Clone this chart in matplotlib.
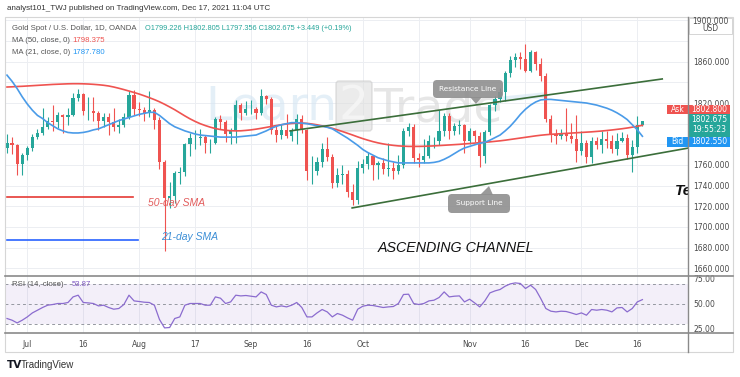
import numpy as np
import pandas as pd
import matplotlib
matplotlib.use("Agg")
import matplotlib.pyplot as plt
from matplotlib.patches import Rectangle, FancyBboxPatch, Polygon
from matplotlib.transforms import Affine2D

W, H = 740, 377

# --- data (XAU/USD daily, OANDA) ---
dates = pd.bdate_range("2021-06-25", "2021-12-17")

opens = [
    1776, 1781, 1779, 1761, 1770, 1776, 1787, 1791, 1797, 1803,
    1802, 1808, 1806, 1808, 1825, 1829, 1812, 1812, 1810, 1803,
    1806, 1802, 1797, 1799, 1806, 1828, 1814, 1813, 1810, 1813,
    1804, 1763, 1728, 1730, 1752, 1753, 1780, 1786, 1786, 1787,
    1781, 1781, 1805, 1802, 1790, 1793, 1818, 1810, 1814, 1814,
    1810, 1827, 1824, 1794, 1789, 1794, 1788, 1794, 1805, 1794,
    1754, 1754, 1763, 1775, 1768, 1743, 1750, 1751, 1734, 1726,
    1757, 1761, 1769, 1760, 1762, 1756, 1757, 1754, 1760, 1793,
    1797, 1767, 1765, 1769, 1783, 1783, 1793, 1807, 1793, 1798,
    1799, 1783, 1793, 1788, 1769, 1792, 1818, 1824, 1831, 1849,
    1862, 1865, 1863, 1851, 1869, 1858, 1846, 1805, 1790, 1788,
    1790, 1788, 1785, 1774, 1781, 1768, 1783, 1779, 1785, 1783,
    1775, 1783, 1786, 1770, 1777, 1799.2]
highs = [
    1790, 1787, 1780, 1772, 1778, 1790, 1795, 1815, 1806, 1818,
    1811, 1809, 1815, 1830, 1834, 1830, 1826, 1826, 1812, 1810,
    1810, 1815, 1805, 1810, 1832, 1833, 1821, 1816, 1832, 1815,
    1806, 1765, 1744, 1754, 1758, 1781, 1791, 1794, 1795, 1789,
    1785, 1806, 1808, 1804, 1796, 1823, 1820, 1822, 1823, 1816,
    1834, 1828, 1826, 1799, 1800, 1809, 1796, 1809, 1808, 1795,
    1769, 1768, 1781, 1787, 1771, 1757, 1760, 1755, 1742, 1764,
    1766, 1773, 1770, 1764, 1767, 1781, 1763, 1770, 1796, 1801,
    1800, 1772, 1785, 1789, 1787, 1813, 1810, 1810, 1801, 1804,
    1800, 1796, 1794, 1792, 1794, 1819, 1827, 1835, 1851, 1866,
    1868, 1869, 1877, 1871, 1870, 1864, 1849, 1808, 1795, 1795,
    1815, 1801, 1808, 1793, 1784, 1787, 1787, 1793, 1793, 1789,
    1791, 1792, 1790, 1784, 1807, 1802.8]
lows = [
    1772, 1771, 1750, 1750, 1765, 1774, 1785, 1789, 1795, 1793,
    1796, 1791, 1799, 1807, 1822, 1808, 1804, 1803, 1794, 1797,
    1789, 1793, 1791, 1797, 1805, 1808, 1807, 1803, 1806, 1795,
    1756, 1677, 1718, 1723, 1742, 1749, 1769, 1775, 1779, 1772,
    1772, 1780, 1795, 1782, 1780, 1781, 1804, 1808, 1809, 1805,
    1808, 1819, 1790, 1782, 1785, 1786, 1783, 1780, 1791, 1745,
    1742, 1750, 1758, 1764, 1738, 1739, 1742, 1729, 1721, 1722,
    1752, 1756, 1745, 1746, 1751, 1749, 1746, 1751, 1757, 1788,
    1762, 1758, 1762, 1767, 1776, 1779, 1788, 1785, 1789, 1790,
    1772, 1780, 1782, 1758, 1762, 1789, 1812, 1821, 1822, 1845,
    1855, 1853, 1850, 1850, 1852, 1841, 1802, 1782, 1780, 1785,
    1783, 1781, 1763, 1770, 1762, 1762, 1775, 1772, 1776, 1772,
    1770, 1782, 1766, 1753, 1772, 1797.4]
closes = [
    1781, 1779, 1761, 1770, 1776, 1787, 1791, 1797, 1803, 1802,
    1808, 1806, 1808, 1825, 1829, 1812, 1812, 1810, 1803, 1806,
    1802, 1797, 1799, 1806, 1828, 1814, 1813, 1810, 1813, 1804,
    1763, 1728, 1730, 1752, 1753, 1780, 1786, 1786, 1787, 1781,
    1781, 1805, 1802, 1790, 1793, 1818, 1810, 1814, 1814, 1810,
    1827, 1824, 1794, 1789, 1794, 1788, 1794, 1805, 1794, 1754,
    1754, 1763, 1775, 1768, 1743, 1750, 1751, 1734, 1726, 1757,
    1761, 1769, 1760, 1762, 1756, 1757, 1754, 1760, 1793, 1797,
    1767, 1765, 1769, 1783, 1783, 1793, 1807, 1793, 1798, 1799,
    1783, 1793, 1788, 1769, 1792, 1818, 1824, 1831, 1849, 1862,
    1865, 1863, 1851, 1869, 1858, 1846, 1805, 1790, 1788, 1790,
    1788, 1785, 1774, 1781, 1768, 1783, 1779, 1785, 1783, 1775,
    1783, 1786, 1770, 1777, 1799, 1802.7]

ma50 = [
    1835.5, 1835.7, 1836.0, 1836.2, 1836.5, 1836.8, 1837.1, 1837.4, 1837.7, 1838.0,
    1838.2, 1838.4, 1838.6, 1838.7, 1838.7, 1838.6, 1838.4, 1838.1, 1837.7, 1837.2,
    1836.5, 1835.5, 1834.3, 1833.0, 1831.6, 1830.2, 1828.7, 1827.0, 1825.2, 1823.3,
    1821.2, 1818.8, 1816.2, 1813.5, 1810.5, 1807.5, 1804.7, 1802.2, 1800.0, 1798.2,
    1796.6, 1795.3, 1794.3, 1793.6, 1793.2, 1793.0, 1793.1, 1793.5, 1794.0, 1794.7,
    1795.5, 1796.4, 1797.3, 1798.2, 1799.0, 1799.7, 1800.2, 1800.5, 1800.6, 1800.3,
    1799.7, 1798.9, 1797.9, 1796.8, 1795.5, 1794.0, 1792.4, 1790.7, 1789.0, 1787.2,
    1785.5, 1784.0, 1782.6, 1781.4, 1780.4, 1779.6, 1779.0, 1778.5, 1778.2, 1778.0,
    1778.0, 1778.0, 1778.1, 1778.3, 1778.5, 1778.8, 1779.1, 1779.4, 1779.7, 1780.0,
    1780.4, 1780.8, 1781.2, 1781.6, 1782.0, 1782.4, 1782.9, 1783.4, 1784.0, 1784.7,
    1785.4, 1786.1, 1786.8, 1787.5, 1788.2, 1788.8, 1789.3, 1789.7, 1790.0, 1790.3,
    1790.6, 1790.9, 1791.2, 1791.5, 1791.8, 1792.1, 1792.5, 1792.9, 1793.4, 1793.9,
    1794.5, 1795.1, 1795.8, 1796.6, 1797.5, 1798.4]
ma21 = [
    1847.0, 1841.0, 1834.0, 1826.0, 1819.0, 1813.0, 1808.0, 1805.0, 1801.0, 1798.0,
    1795.0, 1793.0, 1791.5, 1791.0, 1791.0, 1791.5, 1792.5, 1794.0, 1795.0, 1797.0,
    1799.0, 1801.0, 1803.0, 1804.5, 1806.0, 1807.5, 1809.0, 1810.0, 1811.0, 1811.0,
    1808.0, 1804.0, 1800.0, 1797.0, 1795.0, 1793.0, 1791.5, 1790.0, 1789.0, 1788.5,
    1788.0, 1787.5, 1787.0, 1787.0, 1787.0, 1787.0, 1787.5, 1788.0, 1788.5, 1789.0,
    1791.0, 1793.0, 1795.5, 1797.5, 1799.0, 1800.0, 1801.0, 1801.0, 1800.5, 1800.0,
    1799.0, 1798.0, 1797.5, 1796.5, 1795.0, 1792.0, 1789.0, 1786.0, 1782.5, 1779.0,
    1775.0, 1772.0, 1769.5, 1767.0, 1765.5, 1764.0, 1763.0, 1762.0, 1762.0, 1762.0,
    1762.0, 1762.0, 1762.0, 1762.0, 1762.5, 1763.5, 1765.5, 1768.0, 1771.0, 1774.0,
    1776.5, 1778.0, 1779.5, 1781.0, 1782.0, 1784.0, 1786.5, 1789.0, 1793.0, 1797.5,
    1803.0, 1809.0, 1814.0, 1818.0, 1821.0, 1823.0, 1823.5, 1823.5, 1823.0, 1822.5,
    1822.0, 1821.5, 1821.0, 1820.5, 1820.0, 1819.0, 1818.0, 1816.5, 1815.0, 1813.0,
    1810.5, 1807.5, 1804.0, 1799.0, 1794.0, 1787.8]
rsi = [
    35.0, 33.3, 30.6, 33.3, 36.6, 40.6, 43.3, 46.0, 48.3, 49.0,
    50.0, 50.0, 51.0, 56.6, 58.3, 51.0, 50.6, 50.0, 47.6, 48.3,
    46.0, 44.3, 45.0, 49.0, 58.3, 52.6, 52.0, 51.3, 51.0, 48.3,
    34.0, 25.6, 26.0, 35.0, 36.6, 48.3, 50.0, 50.0, 50.0, 48.3,
    48.3, 56.6, 55.3, 50.0, 51.6, 58.3, 57.6, 58.0, 57.3, 56.6,
    61.6, 59.0, 48.3, 46.6, 47.6, 46.6, 48.3, 51.0, 46.0, 36.6,
    36.6, 40.6, 44.0, 41.6, 36.6, 40.0, 38.3, 35.6, 33.3, 44.3,
    47.3, 48.3, 48.0, 47.0, 46.0, 46.6, 47.0, 50.0, 59.0, 59.3,
    50.0, 49.0, 50.0, 52.6, 53.3, 56.0, 61.6, 56.6, 57.3, 57.6,
    51.6, 54.3, 50.6, 46.6, 52.6, 60.6, 62.6, 64.0, 67.3, 69.6,
    70.6, 70.0, 65.0, 68.3, 64.0, 55.0, 45.0, 42.3, 41.6, 42.3,
    42.0, 40.6, 39.0, 40.6, 38.3, 44.0, 43.3, 44.0, 43.3, 41.6,
    45.6, 46.0, 41.6, 45.0, 51.6, 53.87]

tick_dates = ["2021-07-01", "2021-07-16", "2021-08-02", "2021-08-17", "2021-09-01",
              "2021-09-16", "2021-10-01", "2021-10-18", "2021-11-01", "2021-11-16",
              "2021-12-01", "2021-12-16"]
tick_labels = ["Jul", "16", "Aug", "17", "Sep", "16", "Oct", "", "Nov", "16", "Dec", "16"]

grid_prices = list(range(1660, 1901, 20))
price_labels = [1660, 1680, 1700, 1720, 1740, 1760, 1820, 1860]
rsi_labels = [25, 50, 75]

# drawings on the chart (bar index, price)
resistance_x = [55.7, 128.9]
resistance_y = [1793.0, 1843.3]
support_x = [67.9, 134.5]
support_y = [1718.4, 1776.8]
sma50_key_x = [0, 24.8]
sma50_key_y = [1729.3, 1729.3]
sma21_key_x = [0, 25.8]
sma21_key_y = [1687.4, 1687.4]

GREEN = "#26a69a"
RED = "#ef5350"
GRID = "#eceef2"
TXT = "#4a4a4a"

fig = plt.figure(figsize=(W / 100, H / 100), dpi=100)
fig.patch.set_facecolor("white")
px = Affine2D().scale(1 / W, -1 / H).translate(0, 1) + fig.transFigure


def rect(x0, y0, x1, y1):
    return [x0 / W, 1 - y1 / H, (x1 - x0) / W, (y1 - y0) / H]


x = np.arange(len(closes))
o = np.array(opens)
c = np.array(closes)
cols = [GREEN if cc >= oo else RED for oo, cc in zip(o, c)]
tick_pos = [dates.get_loc(pd.Timestamp(d)) for d in tick_dates]

# ---------------- main price pane ----------------
ax = fig.add_axes(rect(5, 17, 688, 276))
ax.set_xlim(-0.39, 133.97)
ax.set_ylim(1652.5, 1903.3)
for s in ax.spines.values():
    s.set_visible(False)
ax.set_xticks(tick_pos)
ax.set_yticks(grid_prices)
ax.set_yticklabels([f"{p:.3f}" if p in price_labels else "" for p in grid_prices])
ax.yaxis.tick_right()
ax.tick_params(axis="x", length=0, labelbottom=False)
ax.tick_params(axis="y", length=0, pad=4, labelsize=5.5, colors=TXT)
ax.grid(color=GRID, lw=0.7)
ax.set_axisbelow(True)

# watermark
ax.text(205, 120, "Learn", transform=px, fontsize=34, color="#d3e5f3", alpha=0.6, zorder=1)
ax.add_patch(FancyBboxPatch((336, 81), 36, 50, boxstyle="round,pad=0,rounding_size=3",
                            transform=px, fc="#dcdcdc", ec="#c8c8c8", alpha=0.55, zorder=1))
ax.text(354, 119, "2", transform=px, fontsize=34, color="#f4f4f4", ha="center", zorder=1)
ax.text(373, 121, "Trade", transform=px, fontsize=34, color="#d6d6d6", alpha=0.6, zorder=1)
ax.plot([505, 545], [99, 95], transform=px, color="#d3e5f3", lw=4, alpha=0.6, zorder=1)

ax.vlines(x, lows, highs, colors=cols, lw=0.8, zorder=3)
ax.bar(x, np.maximum(np.abs(c - o), 0.5), bottom=np.minimum(o, c), width=0.62,
       color=cols, zorder=4)
ax.plot(x, ma50, color="#ef5350", lw=1.2, zorder=5)
ax.plot(x, ma21, color="#4a9be8", lw=1.2, zorder=5)

ax.plot(resistance_x, resistance_y, color="#3b6e3a", lw=1.2, zorder=6)
ax.plot(support_x, support_y, color="#3b6e3a", lw=1.2, zorder=6)
ax.plot(sma50_key_x, sma50_key_y, color="#e53935", lw=1.2, zorder=6)
ax.plot(sma21_key_x, sma21_key_y, color="#2962ff", lw=1.2, zorder=6)

ax.text(148, 203, "50-day SMA", transform=px, fontsize=7.5, style="italic",
        color="#e25c5c", va="center", family="Liberation Sans", zorder=7)
ax.text(161, 237, "21-day SMA", transform=px, fontsize=7.5, style="italic",
        color="#3d8fd6", va="center", family="Liberation Sans", zorder=7)
ax.text(378, 248, "ASCENDING CHANNEL", transform=px, fontsize=10.3, style="italic",
        color="#111111", va="center", family="Liberation Sans", zorder=7)
ax.text(675, 191, "Te", transform=px, fontsize=11, style="italic", weight="bold",
        color="#111111", va="center", family="Liberation Sans",
        clip_on=True, zorder=7)

# callouts
for (bx, by, bw, bh, tri, label) in [
        (433, 80, 70, 18, [(470, 97), (482, 97), (476, 104)], "Resistance Line"),
        (448, 194, 62, 19, [(480, 195), (493, 195), (489, 186)], "Support Line")]:
    ax.add_patch(FancyBboxPatch((bx, by), bw, bh, boxstyle="round,pad=0,rounding_size=4",
                                transform=px, fc="#8f8f8f", ec="none", alpha=0.9, zorder=8))
    ax.add_patch(Polygon(tri, closed=True, transform=px, fc="#8f8f8f", ec="none",
                         alpha=0.9, zorder=8))
    ax.text(bx + bw / 2, by + bh / 2, label, transform=px, fontsize=5.3, color="white",
            ha="center", va="center", zorder=9)

# ---------------- RSI pane ----------------
rx = fig.add_axes(rect(5, 276, 688, 333))
rx.set_xlim(-0.39, 133.97)
rx.set_ylim(20.5, 77.5)
for s in rx.spines.values():
    s.set_visible(False)
rx.fill_between([-1, 140], 30, 70, color="#7e57c2", alpha=0.09, lw=0)
for lvl in (70, 50, 30):
    rx.axhline(lvl, color="#9598a1", lw=0.7, dashes=(3, 3))
rx.plot(x, rsi, color="#8b6ccf", lw=0.9, zorder=4)
rx.set_xticks(tick_pos)
rx.set_xticklabels(tick_labels)
rx.set_yticks(rsi_labels)
rx.set_yticklabels([f"{v:.2f}" for v in rsi_labels])
rx.yaxis.tick_right()
rx.tick_params(axis="x", length=0, pad=5, labelsize=5.5, colors=TXT)
rx.tick_params(axis="y", length=0, pad=4, labelsize=5.5, colors=TXT)
rx.grid(axis="x", color=GRID, lw=0.7)
rx.set_axisbelow(True)

# ---------------- overlay: frame, legends, price boxes ----------------
ov = fig.add_axes([0, 0, 1, 1])
ov.set_xlim(0, W)
ov.set_ylim(H, 0)
ov.axis("off")
ov.set_zorder(5)

ov.add_patch(Rectangle((5, 17), 728, 335, fc="none", ec="#d6d6d6", lw=0.8))
ov.plot([5, 733], [276, 276], color="#8a8a8a", lw=1.2)
ov.plot([5, 733], [333, 333], color="#8a8a8a", lw=1.2)
ov.plot([688, 688], [17, 352], color="#8a8a8a", lw=1.0)

ov.text(7, 8, "analyst101_TWJ published on TradingView.com, Dec 17, 2021 11:04 UTC",
        fontsize=5.8, color="#333333", va="center", family="Liberation Sans")

ov.text(12, 29, "Gold Spot / U.S. Dollar, 1D, OANDA", fontsize=5.6, color="#555555",
        va="center", family="Liberation Sans")
ov.text(145, 29, "O1799.226 H1802.805 L1797.356 C1802.675 +3.449 (+0.19%)",
        fontsize=5.3, color=GREEN, va="center", family="Liberation Sans")
ov.text(12, 40.5, "MA (50, close, 0)", fontsize=5.6, color="#555555", va="center",
        family="Liberation Sans")
ov.text(72, 40.5, "1798.375", fontsize=5.6, color="#ef5350", va="center",
        family="Liberation Sans")
ov.text(12, 52, "MA (21, close, 0)", fontsize=5.6, color="#555555", va="center",
        family="Liberation Sans")
ov.text(72, 52, "1787.780", fontsize=5.6, color="#2196f3", va="center",
        family="Liberation Sans")
ov.text(12, 285, "RSI (14, close)", fontsize=5.6, color="#555555", va="center",
        family="Liberation Sans")
ov.text(72, 285, "53.87", fontsize=5.6, color="#7e57c2", va="center",
        family="Liberation Sans")

# price scale header
ov.add_patch(Rectangle((689, 17.5), 43, 16, fc="white", ec="#cfcfcf", lw=0.6))
ov.text(710, 21, "1900.000", fontsize=5.5, color=TXT, ha="center", va="center")
ov.text(710, 28.5, "USD", fontsize=5.5, color=TXT, ha="center", va="center")

# Ask / last / Bid boxes
ov.add_patch(Rectangle((667, 104.5), 21, 9, fc="#ef5350", ec="none"))
ov.add_patch(Rectangle((688, 104.5), 42, 9, fc="#ef5350", ec="none"))
ov.add_patch(Rectangle((688, 113.5), 42, 23, fc=GREEN, ec="none"))
ov.add_patch(Rectangle((667, 137), 21, 9.5, fc="#2196f3", ec="none"))
ov.add_patch(Rectangle((688, 137), 42, 9.5, fc="#2196f3", ec="none"))
for xx, yy, s in [(677.5, 109, "Ask"), (709, 109, "1802.800"), (709, 119.5, "1802.675"),
                  (709, 130, "19:55:23"), (677.5, 141.8, "Bid"), (709, 141.8, "1802.550")]:
    ov.text(xx, yy, s, fontsize=5.5, color="white", ha="center", va="center")

# footer logo
ov.text(7, 365, "TV", fontsize=7.5, weight="bold", color="#131722", va="center")
ov.text(21, 365, "TradingView", fontsize=7, color="#333333", va="center",
        family="Liberation Sans")

fig.savefig("out.png", dpi=100, facecolor="white")
